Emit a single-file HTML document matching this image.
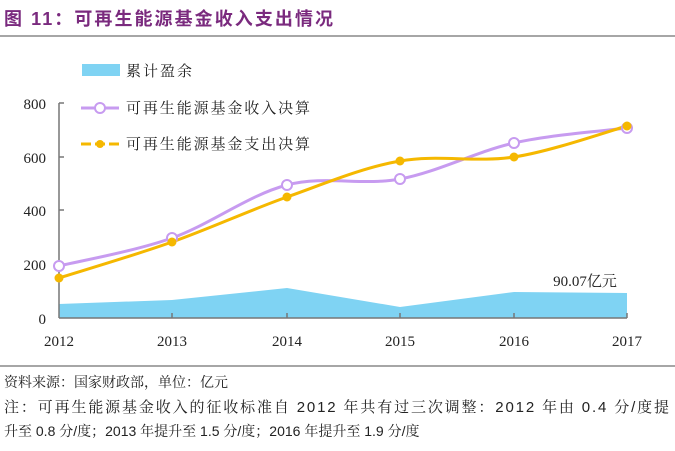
<!DOCTYPE html>
<html><head><meta charset="utf-8"><style>
body{margin:0;width:675px;height:446px;background:#fff;overflow:hidden;font-family:"Liberation Serif","Noto Serif CJK SC",serif;}
</style></head><body>
<svg id="s" width="675" height="446" xmlns="http://www.w3.org/2000/svg">
<text x="4" y="25" font-family="Liberation Sans,Noto Sans CJK SC,sans-serif" font-weight="bold" font-size="18" fill="#7a2a7e" textLength="329" lengthAdjust="spacing">图 11：可再生能源基金收入支出情况</text>
<line x1="0" y1="36" x2="675" y2="36" stroke="#888" stroke-width="1.5"/>
<rect x="82" y="64" width="38" height="12" fill="#7fd3f3"/>
<text x="126" y="76" font-size="15" fill="#222" font-family="Noto Serif CJK SC,serif" textLength="66" lengthAdjust="spacing">累计盈余</text>
<line x1="81" y1="108" x2="119" y2="108" stroke="#c79bf0" stroke-width="3"/>
<circle cx="100" cy="108" r="5" fill="#fff" stroke="#c79bf0" stroke-width="2"/>
<text x="126" y="113" font-size="15" fill="#222" font-family="Noto Serif CJK SC,serif" textLength="184" lengthAdjust="spacing">可再生能源基金收入决算</text>
<line x1="81" y1="144" x2="119" y2="144" stroke="#f5b800" stroke-width="3" stroke-dasharray="10,4"/>
<circle cx="100" cy="144" r="4" fill="#f5b800"/>
<text x="126" y="149" font-size="15" fill="#222" font-family="Noto Serif CJK SC,serif" textLength="184" lengthAdjust="spacing">可再生能源基金支出决算</text>
<g font-size="15" fill="#222" text-anchor="end">
<text x="46" y="109">800</text><text x="46" y="163">600</text><text x="46" y="216">400</text><text x="46" y="270">200</text><text x="46" y="324">0</text>
</g>
<path d="M59,304 L172,300 L287,288 L400,307 L514,292 L627,293 L627,318 L59,318Z" fill="#7fd3f3"/>
<g stroke="#777" stroke-width="1.5">
<line x1="59" y1="103" x2="59" y2="318"/><line x1="59" y1="318" x2="627" y2="318"/>
<line x1="59" y1="103" x2="64" y2="103"/><line x1="59" y1="157" x2="64" y2="157"/><line x1="59" y1="210" x2="64" y2="210"/><line x1="59" y1="264" x2="64" y2="264"/>
<line x1="172" y1="318" x2="172" y2="313"/><line x1="287" y1="318" x2="287" y2="313"/><line x1="400" y1="318" x2="400" y2="313"/><line x1="514" y1="318" x2="514" y2="313"/><line x1="627" y1="318" x2="627" y2="313"/>
</g>
<g id="lines"></g>
<text x="585" y="286" font-size="15" fill="#222" text-anchor="middle">90.07亿元</text>
<g font-size="15" fill="#222" text-anchor="middle">
<text x="59" y="346">2012</text><text x="172" y="346">2013</text><text x="287" y="346">2014</text><text x="400" y="346">2015</text><text x="514" y="346">2016</text><text x="627" y="346">2017</text>
</g>
<line x1="0" y1="366" x2="675" y2="366" stroke="#888" stroke-width="1.5"/>
<text x="4" y="387" font-size="14" fill="#222" font-family="Noto Serif CJK SC,serif">资料来源：国家财政部，单位：亿元</text>
<text x="4" y="412" font-size="15" fill="#222" font-family="Liberation Sans,Noto Serif CJK SC,serif" textLength="665" lengthAdjust="spacing">注：可再生能源基金收入的征收标准自 2012 年共有过三次调整：2012 年由 0.4 分/度提</text>
<text x="4" y="436" font-size="14" fill="#222" font-family="Liberation Sans,Noto Serif CJK SC,serif">升至 0.8 分/度；2013 年提升至 1.5 分/度；2016 年提升至 1.9 分/度</text>
</svg>
<script>
var xs=[59,172,287,400,514,627];
function path(ys){var p=xs.map((x,i)=>[x,ys[i]]);var d="M"+p[0];for(var i=0;i<p.length-1;i++){var p0=p[i-1]||p[i],p1=p[i],p2=p[i+1],p3=p[i+2]||p2;var t=6;d+=" C"+(p1[0]+(p2[0]-p0[0])/t)+","+(p1[1]+(p2[1]-p0[1])/t)+" "+(p2[0]-(p3[0]-p1[0])/t)+","+(p2[1]-(p3[1]-p1[1])/t)+" "+p2;}return d;}
var inc=[266,238,185,179,143,128],exp=[278,242,197,161,157,126];
var g=document.getElementById("lines"),h="";
h+='<path d="'+path(inc)+'" fill="none" stroke="#c79bf0" stroke-width="3"/>';
h+='<path d="'+path(exp)+'" fill="none" stroke="#f5b800" stroke-width="3"/>';
xs.forEach((x,i)=>{h+='<circle cx="'+x+'" cy="'+inc[i]+'" r="5" fill="#fff" stroke="#c79bf0" stroke-width="2"/>';h+='<circle cx="'+x+'" cy="'+exp[i]+'" r="4.5" fill="#f5b800"/>';});
g.innerHTML=h;
</script>
</body></html>
